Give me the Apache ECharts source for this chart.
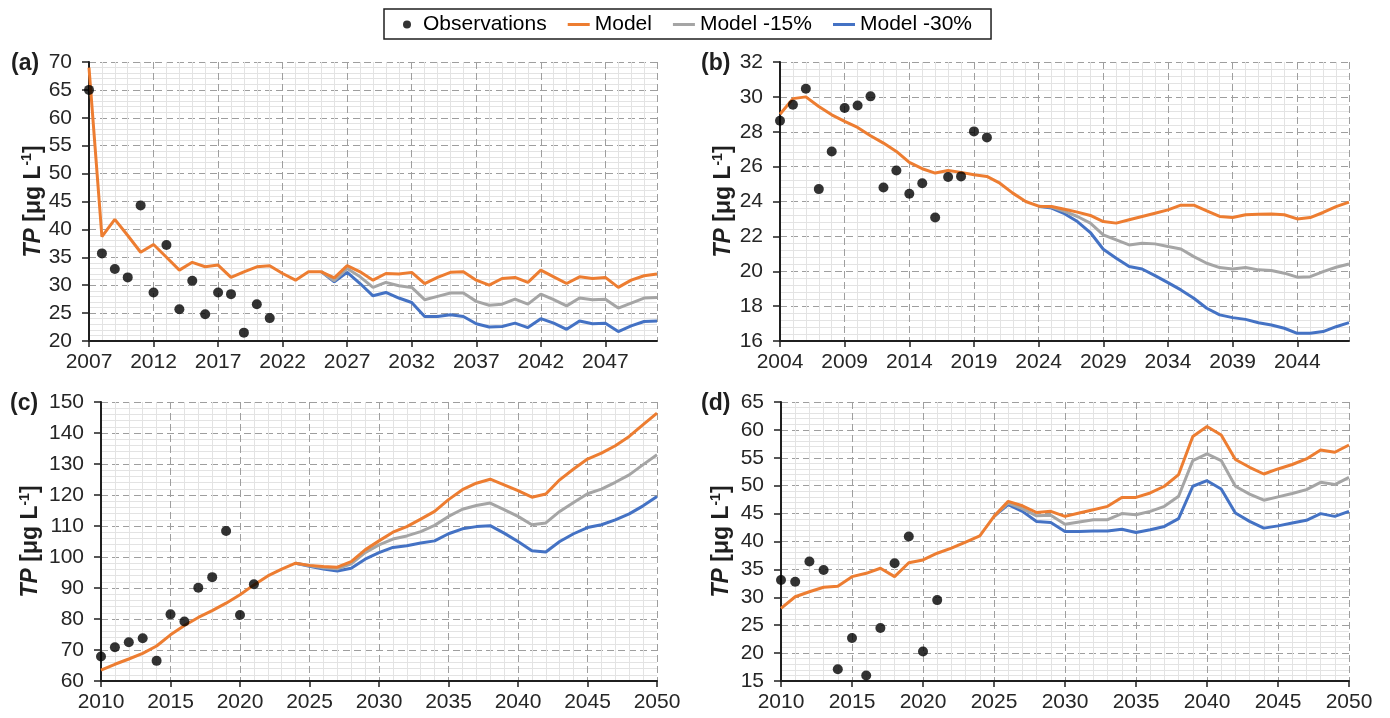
<!DOCTYPE html>
<html>
<head>
<meta charset="utf-8">
<script src="https://cdn.jsdelivr.net/npm/echarts@6/dist/echarts.min.js"></script>
<style>
  html, body { margin: 0; padding: 0; background: #ffffff; }
  #chart { width: 1390px; height: 718px; }
</style>
</head>
<body>
<div id="chart"></div>
<script>
// ---- Panel (a) ----
const aStart = 2007;
const aObs = [65.0, 35.7, 32.9, 31.4, 44.3, 28.7, 37.2, 25.7, 30.8, 24.8, 28.7, 28.4, 21.5, 26.6, 24.1];
const aModel = [69.0, 38.7, 41.8, 38.9, 35.9, 37.3, 35.0, 32.7, 34.1, 33.3,
                33.6, 31.4, 32.4, 33.3, 33.5, 32.1, 30.9, 32.4, 32.4, 31.3,
                33.5, 32.4, 30.9, 32.1, 32.0, 32.3, 30.3, 31.4, 32.3, 32.4,
                30.9, 30.0, 31.2, 31.4, 30.5, 32.7, 31.5, 30.3, 31.5, 31.2,
                31.4, 29.6, 30.9, 31.7, 32.0];
const aScenStart = 2025;
const aModel15 = [32.4, 30.8, 33.0, 31.5, 29.6, 30.5, 29.9, 29.6, 27.4, 28.0, 28.6, 28.6, 27.1, 26.4,
                  26.6, 27.5, 26.6, 28.4, 27.4, 26.3, 27.7, 27.4, 27.5, 25.9, 26.8, 27.7, 27.8];
const aModel30 = [32.4, 30.6, 32.3, 30.3, 28.1, 28.7, 27.7, 26.9, 24.4, 24.4, 24.7, 24.4, 23.1, 22.5,
                  22.6, 23.2, 22.4, 24.0, 23.2, 22.1, 23.6, 23.1, 23.2, 21.7, 22.7, 23.5, 23.6];

// ---- Panel (b) ----
const bStart = 2004;
const bObs = [28.63, 29.55, 30.47, 24.71, 26.87, 29.36, 29.51, 30.03, 24.8, 25.78, 24.44, 25.05, 23.08, 25.4, 25.44, 28.02, 27.67];
const bModel = [29.0, 29.9, 30.0, 29.45, 28.97, 28.6, 28.25, 27.77, 27.35, 26.87,
                26.24, 25.88, 25.63, 25.78, 25.67, 25.53, 25.44, 25.05, 24.48, 24.0,
                23.73, 23.71, 23.56, 23.39, 23.2, 22.85, 22.76, 22.95, 23.14, 23.33,
                23.52, 23.79, 23.79, 23.46, 23.14, 23.08, 23.24, 23.27, 23.29, 23.24,
                23.0, 23.08, 23.37, 23.71, 23.96];
const bScenStart = 2024;
const bModel15 = [23.73, 23.68, 23.43, 23.14, 22.76, 22.09, 21.8, 21.51, 21.61, 21.57, 21.42, 21.28, 20.84,
                  20.46, 20.21, 20.13, 20.21, 20.08, 20.04, 19.89, 19.66, 19.69, 19.98, 20.23, 20.42];
const bModel30 = [23.73, 23.62, 23.3, 22.85, 22.22, 21.26, 20.75, 20.27, 20.13, 19.75, 19.35, 18.93, 18.45,
                  17.88, 17.5, 17.34, 17.24, 17.05, 16.92, 16.73, 16.44, 16.44, 16.54, 16.82, 17.05];

// ---- Panel (c) ----
const cStart = 2010;
const cObs = [67.9, 70.9, 72.5, 73.8, 66.5, 81.5, 79.2, 90.1, 93.5, 108.4, 81.3, 91.2];
const cModel = [63.5, 65.4, 67.1, 68.9, 71.3, 74.9, 77.9, 80.5, 82.7, 85.1,
                87.8, 91.0, 93.9, 96.1, 98.0, 97.3, 96.9, 96.7, 98.5, 102.3,
                105.2, 108.0, 109.8, 112.2, 114.7, 118.5, 121.7, 123.8, 125.1, 123.3,
                121.4, 119.3, 120.3, 124.9, 128.4, 131.6, 133.5, 135.9, 138.9, 142.7,
                146.4];
const cScenStart = 2024;
const cModel15 = [98.0, 97.2, 96.5, 96.2, 97.8, 101.4, 103.9, 105.8, 106.8, 108.2, 110.2, 113.1, 115.4, 116.6,
                  117.4, 115.3, 113.1, 110.4, 111.0, 114.7, 117.6, 120.4, 121.9, 124.1, 126.5, 129.8, 133.0];
const cModel30 = [98.0, 97.0, 96.1, 95.5, 96.4, 99.3, 101.4, 103.1, 103.6, 104.5, 105.2, 107.5, 109.1, 109.8,
                  110.1, 107.7, 105.0, 102.0, 101.6, 105.0, 107.5, 109.5, 110.4, 112.0, 113.9, 116.5, 119.5];

// ---- Panel (d) ----
const dStart = 2010;
const dObs = [33.1, 32.8, 36.4, 34.9, 17.1, 22.7, 16.0, 24.5, 36.1, 40.9, 20.3, 29.5];
const dModel = [28.0, 30.1, 31.0, 31.8, 32.0, 33.7, 34.3, 35.2, 33.7, 36.2,
                36.7, 37.9, 38.8, 39.9, 41.0, 44.5, 47.2, 46.4, 45.2, 45.4,
                44.5, 45.1, 45.7, 46.3, 47.9, 47.9, 48.7, 49.9, 52.0, 58.8,
                60.6, 59.1, 54.7, 53.3, 52.1, 53.0, 53.8, 54.8, 56.4, 56.0,
                57.3];
const dScenStart = 2025;
const dModel15 = [44.5, 46.9, 45.9, 44.6, 44.7, 43.1, 43.5, 43.9, 43.9, 45.0, 44.8, 45.4, 46.3,
                  48.1, 54.5, 55.7, 54.5, 49.9, 48.5, 47.4, 48.0, 48.6, 49.3, 50.6, 50.2, 51.5];
const dModel30 = [44.5, 46.6, 45.4, 43.6, 43.4, 41.8, 41.8, 41.9, 41.9, 42.2, 41.6, 42.1, 42.7,
                  44.1, 49.9, 50.9, 49.4, 45.1, 43.6, 42.4, 42.8, 43.3, 43.8, 45.0, 44.5, 45.4];

// Axis ranges: [xMin, xMax, yMin, yMax, yInterval]
const aRange = [2007, 2051, 20, 70, 5];
const bRange = [2004, 2048, 16, 32, 2];
const cRange = [2010, 2050, 60, 150, 10];
const dRange = [2010, 2050, 15, 65, 5];
const panelLabels = ['(a)', '(b)', '(c)', '(d)'];

const FONT = '"Liberation Sans", Arial, Helvetica, sans-serif';
const INK = '#1f1f1f';
const COLORS = { obs: '#000000', model: '#ED7D31', m15: '#A5A5A5', m30: '#4472C4' };
// thin bar used as the legend key for the model lines
const LINE_KEY = 'path://M0,0 L22,0 L22,3 L0,3 Z';

// [year, value] pairs from a start year and a list of yearly values
function pairs(start, values) {
  return values.map((v, i) => [start + i, v]);
}

const grids = [
  { left: 89,  top: 62,  width: 568, height: 279 },
  { left: 780, top: 62,  width: 569, height: 279 },
  { left: 101, top: 402, width: 556, height: 279 },
  { left: 781, top: 402, width: 568, height: 279 }
];
const nameGaps = [42, 43, 57, 46];

const panels = [
  { start: aStart, obs: aObs, model: aModel, scen: aScenStart, m15: aModel15, m30: aModel30, range: aRange },
  { start: bStart, obs: bObs, model: bModel, scen: bScenStart, m15: bModel15, m30: bModel30, range: bRange },
  { start: cStart, obs: cObs, model: cModel, scen: cScenStart, m15: cModel15, m30: cModel30, range: cRange },
  { start: dStart, obs: dObs, model: dModel, scen: dScenStart, m15: dModel15, m30: dModel30, range: dRange }
];

const xAxes = [], yAxes = [], series = [];

panels.forEach((p, gi) => {
  const [xMin, xMax, yMin, yMax, yInt] = p.range;
  xAxes.push({
    type: 'value', gridIndex: gi, min: xMin, max: xMax, interval: 5,
    axisLine: { show: true, onZero: false, lineStyle: { color: INK, width: 2 } },
    axisTick: { show: true, length: 6, lineStyle: { color: INK, width: 1.5 } },
    axisLabel: {
      color: '#262626', fontSize: 21, fontFamily: FONT, margin: 11,
      showMaxLabel: (xMax - xMin) % 5 === 0,
      formatter: v => String(v)
    },
    splitLine: { show: true, lineStyle: { color: '#9e9e9e', width: 1, type: [7, 4] } },
    minorTick: { show: false, splitNumber: 5 },
    minorSplitLine: { show: true, lineStyle: { color: '#e3e3e3', width: 1 } }
  });
  yAxes.push({
    type: 'value', gridIndex: gi, min: yMin, max: yMax, interval: yInt,
    name: '{i|TP}{b| [μg L}{s|-1}{b|]}',
    nameLocation: 'middle', nameGap: nameGaps[gi],
    nameTextStyle: {
      fontFamily: FONT, color: INK,
      rich: {
        i: { fontSize: 23, fontWeight: 'bold', fontStyle: 'italic', fontFamily: FONT, color: INK, lineHeight: 26 },
        b: { fontSize: 23, fontWeight: 'bold', fontFamily: FONT, color: INK, lineHeight: 26 },
        s: { fontSize: 14, fontWeight: 'bold', fontFamily: FONT, color: INK, lineHeight: 16, verticalAlign: 'top' }
      }
    },
    axisLine: { show: true, onZero: false, lineStyle: { color: INK, width: 2 } },
    axisTick: { show: true, length: 7, lineStyle: { color: INK, width: 1.5 } },
    axisLabel: { color: '#262626', fontSize: 21, fontFamily: FONT, margin: 17 },
    splitLine: { show: true, lineStyle: { color: '#9e9e9e', width: 1, type: [7, 4] } },
    minorTick: { show: false, splitNumber: 5 },
    minorSplitLine: { show: true, lineStyle: { color: '#e3e3e3', width: 1 } }
  });

  const lineBase = {
    type: 'line', xAxisIndex: gi, yAxisIndex: gi, symbol: 'none', showSymbol: false,
    emphasis: { disabled: true }
  };
  series.push(Object.assign({}, lineBase, {
    name: 'Model -30%', z: 2, data: pairs(p.scen, p.m30),
    lineStyle: { color: COLORS.m30, width: 3 }, itemStyle: { color: COLORS.m30 }
  }));
  series.push(Object.assign({}, lineBase, {
    name: 'Model -15%', z: 3, data: pairs(p.scen, p.m15),
    lineStyle: { color: COLORS.m15, width: 3 }, itemStyle: { color: COLORS.m15 }
  }));
  series.push(Object.assign({}, lineBase, {
    name: 'Model', z: 4, data: pairs(p.start, p.model),
    lineStyle: { color: COLORS.model, width: 3 }, itemStyle: { color: COLORS.model }
  }));
  series.push({
    type: 'scatter', name: 'Observations', xAxisIndex: gi, yAxisIndex: gi, z: 5,
    symbol: 'circle', symbolSize: 10, data: pairs(p.start, p.obs),
    itemStyle: { color: COLORS.obs }, emphasis: { disabled: true }
  });
});

const titles = [
  { text: panelLabels[0], left: 11, top: 52 },
  { text: panelLabels[1], left: 701, top: 52 },
  { text: panelLabels[2], left: 10, top: 392 },
  { text: panelLabels[3], left: 701, top: 392 }
].map(t => Object.assign(t, {
  padding: 0,
  textStyle: { fontFamily: FONT, fontSize: 23, fontWeight: 'bold', color: INK }
}));

const chart = echarts.init(document.getElementById('chart'), null, { renderer: 'canvas' });
chart.setOption({
  backgroundColor: '#ffffff',
  animation: false,
  title: titles,
  legend: {
    left: 384, top: 9,
    padding: [5, 19, 4, 19],
    borderColor: INK, borderWidth: 1.5,
    itemGap: 21, itemWidth: 22, itemHeight: 8,
    textStyle: { fontFamily: FONT, fontSize: 21, color: '#000000' },
    data: [
      { name: 'Observations', icon: 'circle' },
      { name: 'Model', icon: LINE_KEY },
      { name: 'Model -15%', icon: LINE_KEY },
      { name: 'Model -30%', icon: LINE_KEY }
    ]
  },
  grid: grids,
  xAxis: xAxes,
  yAxis: yAxes,
  series: series
});
</script>
</body>
</html>
